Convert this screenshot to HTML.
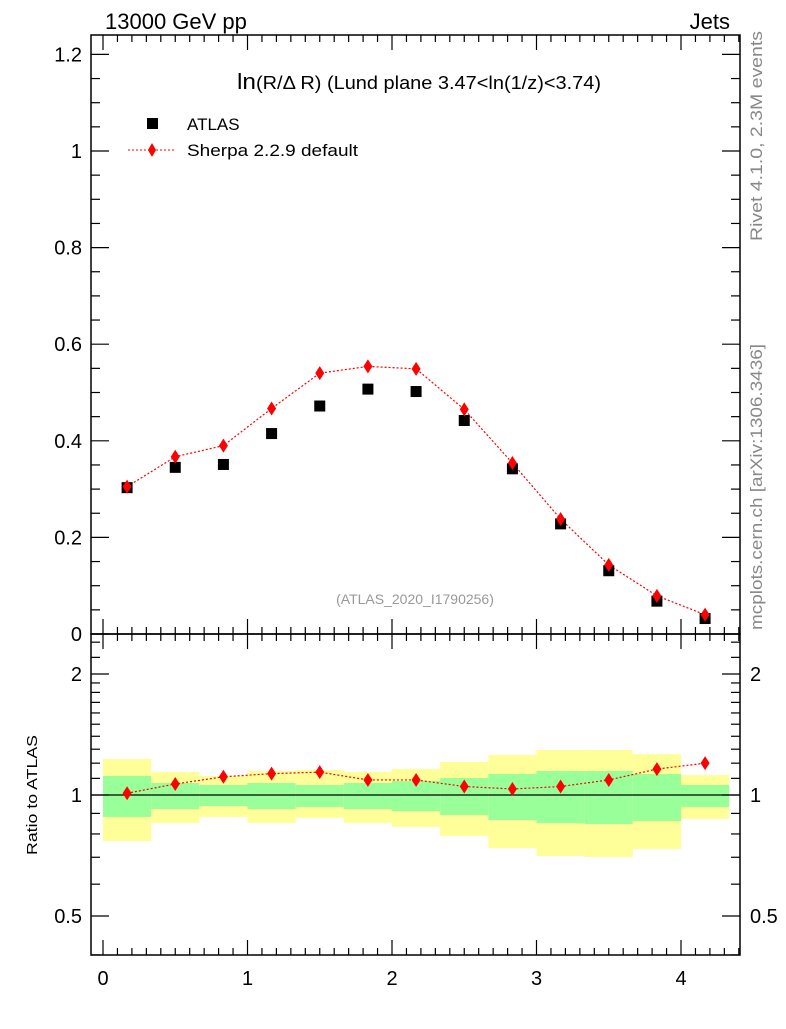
<!DOCTYPE html>
<html><head><meta charset="utf-8"><style>
body{margin:0;background:#fff;}
svg{font-family:"Liberation Sans",sans-serif;}
</style></head><body>
<svg id="c" width="786" height="1024" viewBox="0 0 786 1024">
<text x="105" y="29" font-size="22">13000 GeV pp</text>
<text x="730" y="29" font-size="22" text-anchor="end">Jets</text>
<text x="237" y="89" font-size="18" textLength="364" lengthAdjust="spacingAndGlyphs"><tspan font-size="22">ln</tspan>(R/Δ R) (Lund plane 3.47&lt;ln(1/z)&lt;3.74)</text>
<text x="415" y="604" font-size="14" fill="#999" text-anchor="middle">(ATLAS_2020_I1790256)</text>
<text transform="translate(762,241) rotate(-90)" font-size="17" fill="#888" textLength="210" lengthAdjust="spacingAndGlyphs">Rivet 4.1.0,  2.3M events</text>
<text transform="translate(762,630) rotate(-90)" font-size="17" fill="#888" textLength="286" lengthAdjust="spacingAndGlyphs">mcplots.cern.ch [arXiv:1306.3436]</text>
<text transform="translate(37,855) rotate(-90)" font-size="15" textLength="120" lengthAdjust="spacingAndGlyphs">Ratio to ATLAS</text>
<g>
<rect x="147" y="118" width="11" height="11" fill="#000"/>
<text x="187" y="130" font-size="17">ATLAS</text>
<line x1="128" y1="150" x2="176" y2="150" stroke="red" stroke-dasharray="2,2"/>
<polygon points="152,143 156,150 152,157 148,150" fill="red"/>
<text x="187" y="156" font-size="17" textLength="171" lengthAdjust="spacingAndGlyphs">Sherpa 2.2.9 default</text>
</g>
<g id="bands"></g><g id="marks"></g><g id="axes"></g>
</svg>
<script>
const binEdges=[0,0.3333,0.6667,1,1.3333,1.6667,2,2.3333,2.6667,3,3.3333,3.6667,4,4.3333];
const binCenters=[0.1667,0.5,0.8333,1.1667,1.5,1.8333,2.1667,2.5,2.8333,3.1667,3.5,3.8333,4.1667];
const atlasValues=[0.303,0.345,0.351,0.415,0.472,0.507,0.502,0.442,0.342,0.228,0.131,0.068,0.032];
const sherpaValues=[0.305,0.367,0.390,0.467,0.540,0.554,0.549,0.465,0.354,0.238,0.143,0.079,0.040];
const sherpaRatio=[1.01,1.065,1.11,1.13,1.14,1.09,1.09,1.05,1.035,1.05,1.09,1.16,1.20];
const yellowHi=[1.229,1.141,1.115,1.147,1.154,1.141,1.161,1.208,1.258,1.294,1.294,1.264,1.121];
const greenHi=[1.115,1.071,1.059,1.071,1.059,1.071,1.084,1.102,1.128,1.147,1.147,1.128,1.059];
const greenLo=[0.882,0.923,0.939,0.923,0.934,0.923,0.912,0.892,0.866,0.852,0.847,0.862,0.934];
const yellowLo=[0.768,0.852,0.882,0.852,0.877,0.852,0.833,0.791,0.738,0.705,0.701,0.734,0.872];
const mainTicks=["0","0.2","0.4","0.6","0.8","1","1.2"];
const xTicks=["0","1","2","3","4"];
const ratioTicks=[0.5,1,2];

const NS="http://www.w3.org/2000/svg";
const L=91,R=740,T=35,MB=634,RB=955;
const X=v=>103+v*144.5;
const Y=v=>634-v*483;
const YR=v=>795-121*Math.log2(v);
function mk(tag,attrs,parent){const e=document.createElementNS(NS,tag);for(const k in attrs)e.setAttribute(k,attrs[k]);document.getElementById(parent).appendChild(e);return e;}

for(let i=0;i<binCenters.length;i++){
 let e=mk('rect',{x:X(binEdges[i]),width:X(binEdges[i+1])-X(binEdges[i]),y:YR(yellowHi[i]),height:YR(yellowLo[i])-YR(yellowHi[i]),fill:'#ffff99'},'bands');
 
 
 e=mk('rect',{x:X(binEdges[i]),width:X(binEdges[i+1])-X(binEdges[i]),y:YR(greenHi[i]),height:YR(greenLo[i])-YR(greenHi[i]),fill:'#99ff99'},'bands');
 
 
}
let ln=mk('line',{x1:L,x2:R,y1:YR(1),y2:YR(1),stroke:'#000','stroke-width':1.3},'bands');



let p=mk('polyline',{points:binCenters.map((c,i)=>X(c)+','+Y(sherpaValues[i])).join(' '),fill:'none',stroke:'red','stroke-width':1.2,'stroke-dasharray':'2,2'},'marks');


p=mk('polyline',{points:binCenters.map((c,i)=>X(c)+','+YR(sherpaRatio[i])).join(' '),fill:'none',stroke:'red','stroke-width':1.2,'stroke-dasharray':'2,2'},'marks');


function dia(x,y,name){const e=mk('polygon',{points:`${x},${y-7} ${x+4.5},${y} ${x},${y+7} ${x-4.5},${y}`,fill:'red'},'marks');
 
 }
binCenters.forEach((c,i)=>{
 const e=mk('rect',{x:X(c)-5.5,y:Y(atlasValues[i])-5.5,width:11,height:11,fill:'#000'},'marks');
 
 
 dia(X(c),Y(sherpaValues[i]),'sherpa-point');
 dia(X(c),YR(sherpaRatio[i]),'sherpa-ratio-point');
});

let f=mk('rect',{x:L,y:T,width:R-L,height:MB-T,fill:'none',stroke:'#000','stroke-width':1.5},'axes');


f=mk('rect',{x:L,y:MB,width:R-L,height:RB-MB,fill:'none',stroke:'#000','stroke-width':1.5},'axes');


function tk(x1,y1,x2,y2){const e=mk('line',{x1,y1,x2,y2,stroke:'#000','stroke-width':1.2},'axes');
 
 }
function lab(x,y,t,anchor,name){const e=mk('text',{x,y,'font-size':20,'text-anchor':anchor},'axes');e.textContent=t;
 
 }
for(let k=0;k<=44;k++){const v=k/10,x=X(v);if(x>R)break;const maj=k%10==0;const len=maj?15:7;
 tk(x,T,x,T+len);tk(x,MB,x,MB-len);tk(x,MB,x,MB+len);tk(x,RB,x,RB-len);}
xTicks.forEach(t=>lab(X(+t),985,t,'middle','x-tick-label'));
for(let k=0;k<=24;k++){const v=k*0.05,y=Y(v);if(y<T)break;const maj=k%4==0;const len=maj?18:9;
 tk(L,y,L+len,y);tk(R,y,R-len,y);}
mainTicks.forEach(t=>lab(82,Y(+t)+7,t,'end','y-tick-label'));
const minorR=[0.4,0.6,0.7,0.8,0.9,1.1,1.2,1.3,1.4,1.5,1.6,1.7,1.8,1.9,2.2,2.4];
minorR.forEach(v=>{const y=YR(v);if(y<MB||y>RB)return;tk(L,y,L+9,y);tk(R,y,R-9,y);});
ratioTicks.forEach(v=>{const y=YR(v);tk(L,y,L+18,y);tk(R,y,R-18,y);
 lab(82,y+7,String(v),'end','ratio-tick-label');lab(750,y+7,String(v),'start','ratio-tick-label-right');});
</script>
</body></html>
